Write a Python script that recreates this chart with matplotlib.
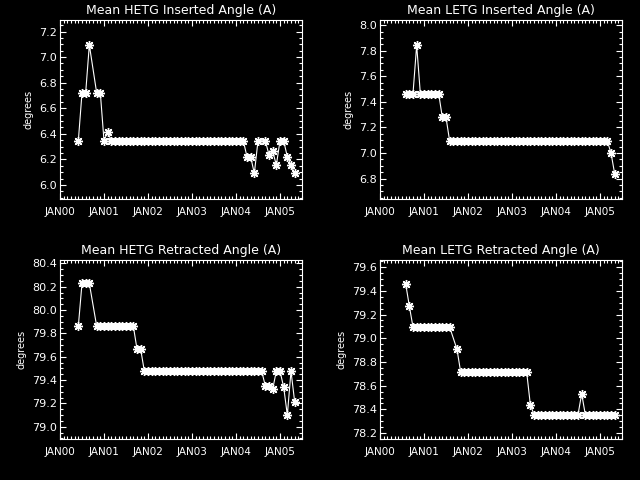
import matplotlib
matplotlib.use("Agg")
import matplotlib.pyplot as plt
from matplotlib.ticker import MultipleLocator, FormatStrFormatter

# months counted from JAN 2000, values in degrees
hetg_in_month = [5, 6, 7, 8, 10, 11, 12, 13,
                 14, 15, 16, 17, 18, 19, 20, 21, 22, 23, 24, 25, 26, 27, 28, 29,
                 30, 31, 32, 33, 34, 35, 36, 37, 38, 39, 40, 41, 42, 43, 44, 45,
                 46, 47, 48, 49, 50,
                 51, 52, 53, 54, 56, 57, 58, 59, 60, 61, 62, 63, 64]
hetg_in_val = [6.345, 6.72, 6.72, 7.095, 6.72, 6.72, 6.345, 6.415,
               6.345, 6.345, 6.345, 6.345, 6.345, 6.345, 6.345, 6.345, 6.345, 6.345,
               6.345, 6.345, 6.345, 6.345, 6.345, 6.345, 6.345, 6.345, 6.345, 6.345,
               6.345, 6.345, 6.345, 6.345, 6.345, 6.345, 6.345, 6.345, 6.345, 6.345,
               6.345, 6.345, 6.345, 6.345, 6.345, 6.345, 6.345,
               6.22, 6.22, 6.09, 6.345, 6.345, 6.235, 6.265, 6.155, 6.345, 6.345,
               6.22, 6.155, 6.09]

letg_in_month = [7, 8, 9, 10, 11, 12, 13, 14, 15, 16, 17, 18,
                 19, 20, 21, 22, 23, 24, 25, 26, 27, 28, 29, 30, 31, 32, 33, 34,
                 35, 36, 37, 38, 39, 40, 41, 42, 43, 44, 45, 46, 47, 48, 49, 50,
                 51, 52, 53, 54, 55, 56, 57, 58, 59, 60, 61, 62,
                 63, 64]
letg_in_val = [7.465, 7.465, 7.465, 7.843, 7.465, 7.465, 7.465, 7.465, 7.465, 7.465,
               7.278, 7.278,
               7.092, 7.092, 7.092, 7.092, 7.092, 7.092, 7.092, 7.092, 7.092, 7.092,
               7.092, 7.092, 7.092, 7.092, 7.092, 7.092, 7.092, 7.092, 7.092, 7.092,
               7.092, 7.092, 7.092, 7.092, 7.092, 7.092, 7.092, 7.092, 7.092, 7.092,
               7.092, 7.092, 7.092, 7.092, 7.092, 7.092, 7.092, 7.092, 7.092, 7.092,
               7.092, 7.092, 7.092, 7.092,
               7.00, 6.838]

hetg_ret_month = [5, 6, 7, 8,
                  10, 11, 12, 13, 14, 15, 16, 17, 18, 19, 20,
                  21, 22,
                  23, 24, 25, 26, 27, 28, 29, 30, 31, 32, 33, 34, 35, 36, 37, 38,
                  39, 40, 41, 42, 43, 44, 45, 46, 47, 48, 49, 50, 51, 52, 53, 54, 55,
                  56, 57, 58, 59, 60, 61, 62, 63, 64]
hetg_ret_val = [79.863, 80.229, 80.229, 80.229,
                79.863, 79.863, 79.863, 79.863, 79.863, 79.863, 79.863, 79.863,
                79.863, 79.863, 79.863,
                79.666, 79.666,
                79.477, 79.477, 79.477, 79.477, 79.477, 79.477, 79.477, 79.477,
                79.477, 79.477, 79.477, 79.477, 79.477, 79.477, 79.477, 79.477,
                79.477, 79.477, 79.477, 79.477, 79.477, 79.477, 79.477, 79.477,
                79.477, 79.477, 79.477, 79.477, 79.477, 79.477, 79.477, 79.477, 79.477,
                79.351, 79.351, 79.323, 79.477, 79.477, 79.34, 79.10, 79.477, 79.214]

letg_ret_month = [7, 8,
                  9, 10, 11, 12, 13, 14, 15, 16, 17, 18, 19,
                  21,
                  22, 23, 24, 25, 26, 27, 28, 29, 30, 31, 32, 33, 34, 35, 36, 37,
                  38, 39, 40,
                  41,
                  42, 43, 44, 45, 46, 47, 48, 49, 50, 51, 52, 53, 54,
                  55,
                  56, 57, 58, 59, 60, 61, 62, 63, 64]
letg_ret_val = [79.46, 79.271,
                79.094, 79.094, 79.094, 79.094, 79.094, 79.094, 79.094, 79.094,
                79.094, 79.094, 79.094,
                78.906,
                78.715, 78.715, 78.715, 78.715, 78.715, 78.715, 78.715, 78.715,
                78.715, 78.715, 78.715, 78.715, 78.715, 78.715, 78.715, 78.715,
                78.715, 78.715, 78.715,
                78.44,
                78.355, 78.355, 78.355, 78.355, 78.355, 78.355, 78.355, 78.355,
                78.355, 78.355, 78.355, 78.355, 78.355,
                78.532,
                78.355, 78.355, 78.355, 78.355, 78.355, 78.355, 78.355, 78.355, 78.355]

year_ticks = [2000, 2001, 2002, 2003, 2004, 2005]
year_labels = ["JAN00", "JAN01", "JAN02", "JAN03", "JAN04", "JAN05"]

panels = [
    ("Mean HETG Inserted Angle (A)", hetg_in_month, hetg_in_val, (5.89, 7.29)),
    ("Mean LETG Inserted Angle (A)", letg_in_month, letg_in_val, (6.64, 8.04)),
    ("Mean HETG Retracted Angle (A)", hetg_ret_month, hetg_ret_val, (78.895, 80.43)),
    ("Mean LETG Retracted Angle (A)", letg_ret_month, letg_ret_val, (78.15, 79.66)),
]

# axes boxes in figure fractions (640x480 canvas)
boxes = [
    [60 / 640, 1 - 199 / 480, 242 / 640, 179 / 480],
    [380 / 640, 1 - 199 / 480, 242 / 640, 179 / 480],
    [60 / 640, 1 - 439 / 480, 242 / 640, 179 / 480],
    [380 / 640, 1 - 439 / 480, 242 / 640, 179 / 480],
]

fig = plt.figure(figsize=(6.4, 4.8), dpi=100, facecolor="black")

for (title, months, vals, ylim), box in zip(panels, boxes):
    ax = fig.add_axes(box, facecolor="black")
    t = [2000 + m / 12.0 for m in months]
    ax.plot(t, vals, color="white", linewidth=0.8,
            marker=(8, 2, 0), markersize=6.5, markeredgewidth=1.0,
            markeredgecolor="white")

    ax.set_xlim(2000, 2005.5)
    ax.set_ylim(*ylim)
    ax.set_xticks(year_ticks)
    ax.set_xticklabels(year_labels)
    ax.xaxis.set_minor_locator(MultipleLocator(1 / 12.0))
    ax.yaxis.set_major_locator(MultipleLocator(0.2))
    ax.yaxis.set_minor_locator(MultipleLocator(0.05))
    ax.yaxis.set_major_formatter(FormatStrFormatter("%.1f"))

    ax.tick_params(which="both", direction="in", top=True, right=True,
                   colors="white", width=0.8)
    ax.tick_params(which="major", length=4)
    ax.tick_params(which="minor", length=2)
    ax.tick_params(axis="x", labelsize=7.5, pad=6)
    ax.tick_params(axis="y", labelsize=8, pad=2)
    for s in ax.spines.values():
        s.set_color("white")
        s.set_linewidth(0.8)

    ax.set_title(title, color="white", fontsize=9, pad=4)
    ax.set_ylabel("degrees", color="white", fontsize=7, labelpad=4)

fig.savefig("out.png", dpi=100, facecolor="black")
